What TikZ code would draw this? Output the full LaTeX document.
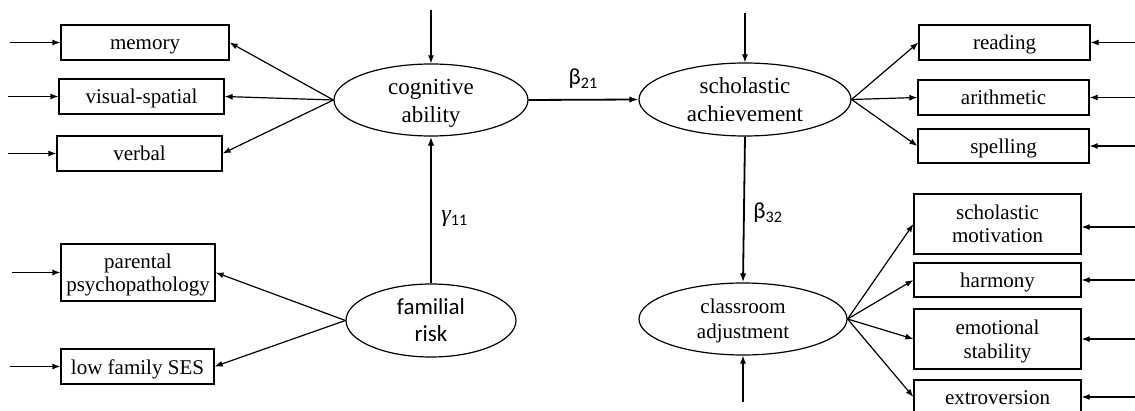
\documentclass[tikz,border=0pt]{standalone}
\usepackage{fontspec}
\setmainfont{Liberation Serif}
\newfontfamily\calib{Carlito}
\usetikzlibrary{shapes.geometric,arrows.meta}
\begin{document}
\begin{tikzpicture}[x=0.5pt,y=-0.5pt,
  every node/.style={inner sep=0pt},
  obs/.style={draw, line width=0.6pt, rectangle,
    font=\fontsize{10.5}{11.5}\selectfont, text height=8.5pt, text depth=1pt},
  obstwo/.style={draw, line width=0.6pt, rectangle, align=center,
    font=\fontsize{10.5}{12}\selectfont, text height=19pt, text depth=0pt},
  lat/.style={draw, line width=0.6pt, ellipse, align=center,
    font=\fontsize{11.5}{14}\selectfont, text height=22.5pt, text depth=0pt},
  arr/.style={line width=0.6pt, -{Latex[length=4pt,width=3pt]}},
  strong/.style={line width=0.9pt, -{Latex[length=4.5pt,width=3.2pt]}},
  coef/.style={font=\calib\fontsize{11.5}{14}\selectfont, anchor=base west}
]
\useasboundingbox (0,0) rectangle (1135,411);

% latent variables
\node[lat, minimum width=97pt, minimum height=36pt] (cog) at (431,100) {cognitive\\ability};
\node[lat, minimum width=106pt, minimum height=36.5pt, text height=22pt] (sch) at (745,99.5) {scholastic\\achievement};
\node[lat, minimum width=104pt, minimum height=36pt,
  font=\fontsize{10.5}{12.5}\selectfont, text height=19pt] (cls) at (743,319) {classroom\\adjustment};
\node[lat, minimum width=85pt, minimum height=36.5pt,
  font=\calib\fontsize{11.5}{13.5}\selectfont, text height=21.5pt] (fam) at (431,320.5) {familial\\risk};

% indicators of cognitive ability
\node[obs, minimum width=84pt, minimum height=17.5pt] (mem) at (145,42.5) {memory};
\node[obs, minimum width=82.5pt, minimum height=17.5pt] (vis) at (141.5,96.5) {visual-spatial};
\node[obs, minimum width=82.5pt, minimum height=17.5pt] (ver) at (139.5,153.5) {verbal};

% indicators of familial risk
\node[obstwo, minimum width=77pt, minimum height=28.5pt,
  font=\fontsize{10.5}{11.5}\selectfont, text height=19.5pt] (par) at (138,272.5) {parental\\psychopathology};
\node[obs, minimum width=76.5pt, minimum height=17.5pt, text height=9pt] (ses) at (137.5,366.5) {low family SES};

% indicators of scholastic achievement
\node[obs, minimum width=85.5pt, minimum height=17.5pt] (rea) at (1004.5,42.5) {reading};
\node[obs, minimum width=85.5pt, minimum height=17.5pt] (ari) at (1003.5,97.5) {arithmetic};
\node[obs, minimum width=85.5pt, minimum height=17pt] (spe) at (1003.5,146) {spelling};

% indicators of classroom adjustment
\node[obstwo, minimum width=83.5pt, minimum height=30pt] (mot) at (997.5,224) {scholastic\\motivation};
\node[obs, minimum width=83.5pt, minimum height=17pt] (har) at (997.5,280) {harmony};
\node[obstwo, minimum width=83.5pt, minimum height=30pt] (emo) at (997.5,339) {emotional\\stability};
\node[obs, minimum width=83.5pt, minimum height=17pt] (ext) at (997.5,397) {extroversion};

% loadings
\foreach \t in {mem,vis,ver} \draw[arr] (cog.west) -- (\t.east);
\foreach \t in {par,ses} \draw[arr] (fam.west) -- (\t.east);
\foreach \t in {rea,ari,spe} \draw[arr] (sch.east) -- (\t.west);
\foreach \t in {mot,har,emo,ext} \draw[arr] (cls.east) -- (\t.west);

% structural paths
\draw[strong] (cog.east) -- node[coef, anchor=base, above=5pt] {β\textsubscript{21}} (sch.west);
\draw[strong] (fam.north) -- (cog.south);
\draw[strong] (sch.south) -- (cls.north);
\node[coef] (g11) at (441,222) {{\rmfamily\itshape\fontsize{12}{14}\selectfont γ}\textsubscript{11}};
\node[coef] (b32) at (753,219) {β\textsubscript{32}};

% residual terms
\coordinate (ecog) at (431,10);
\coordinate (esch) at (745,13);
\coordinate (ecls) at (743,402);
\draw[arr] (ecog) -- (cog.north);
\draw[arr] (esch) -- (sch.north);
\draw[arr] (ecls) -- (cls.south);

\coordinate (emem) at (10,42.5);
\coordinate (evis) at (8,96.5);
\coordinate (ever) at (8,153.5);
\coordinate (epar) at (12,272.5);
\coordinate (eses) at (10,366.5);
\draw[arr] (emem) -- (mem.west);
\draw[arr] (evis) -- (vis.west);
\draw[arr] (ever) -- (ver.west);
\draw[arr] (epar) -- (par.west);
\draw[arr] (eses) -- (ses.west);

\coordinate (erea) at (1135,42.5);
\coordinate (eari) at (1135,97.5);
\coordinate (espe) at (1135,146);
\coordinate (emot) at (1135,227);
\coordinate (ehar) at (1135,280);
\coordinate (eemo) at (1135,339);
\coordinate (eext) at (1135,397);
\draw[arr] (erea) -- (rea.east);
\draw[arr] (eari) -- (ari.east);
\draw[arr] (espe) -- (spe.east);
\draw[arr] (emot) -- (emot -| mot.east);
\draw[arr] (ehar) -- (har.east);
\draw[arr] (eemo) -- (emo.east);
\draw[arr] (eext) -- (ext.east);
\end{tikzpicture}
\end{document}
